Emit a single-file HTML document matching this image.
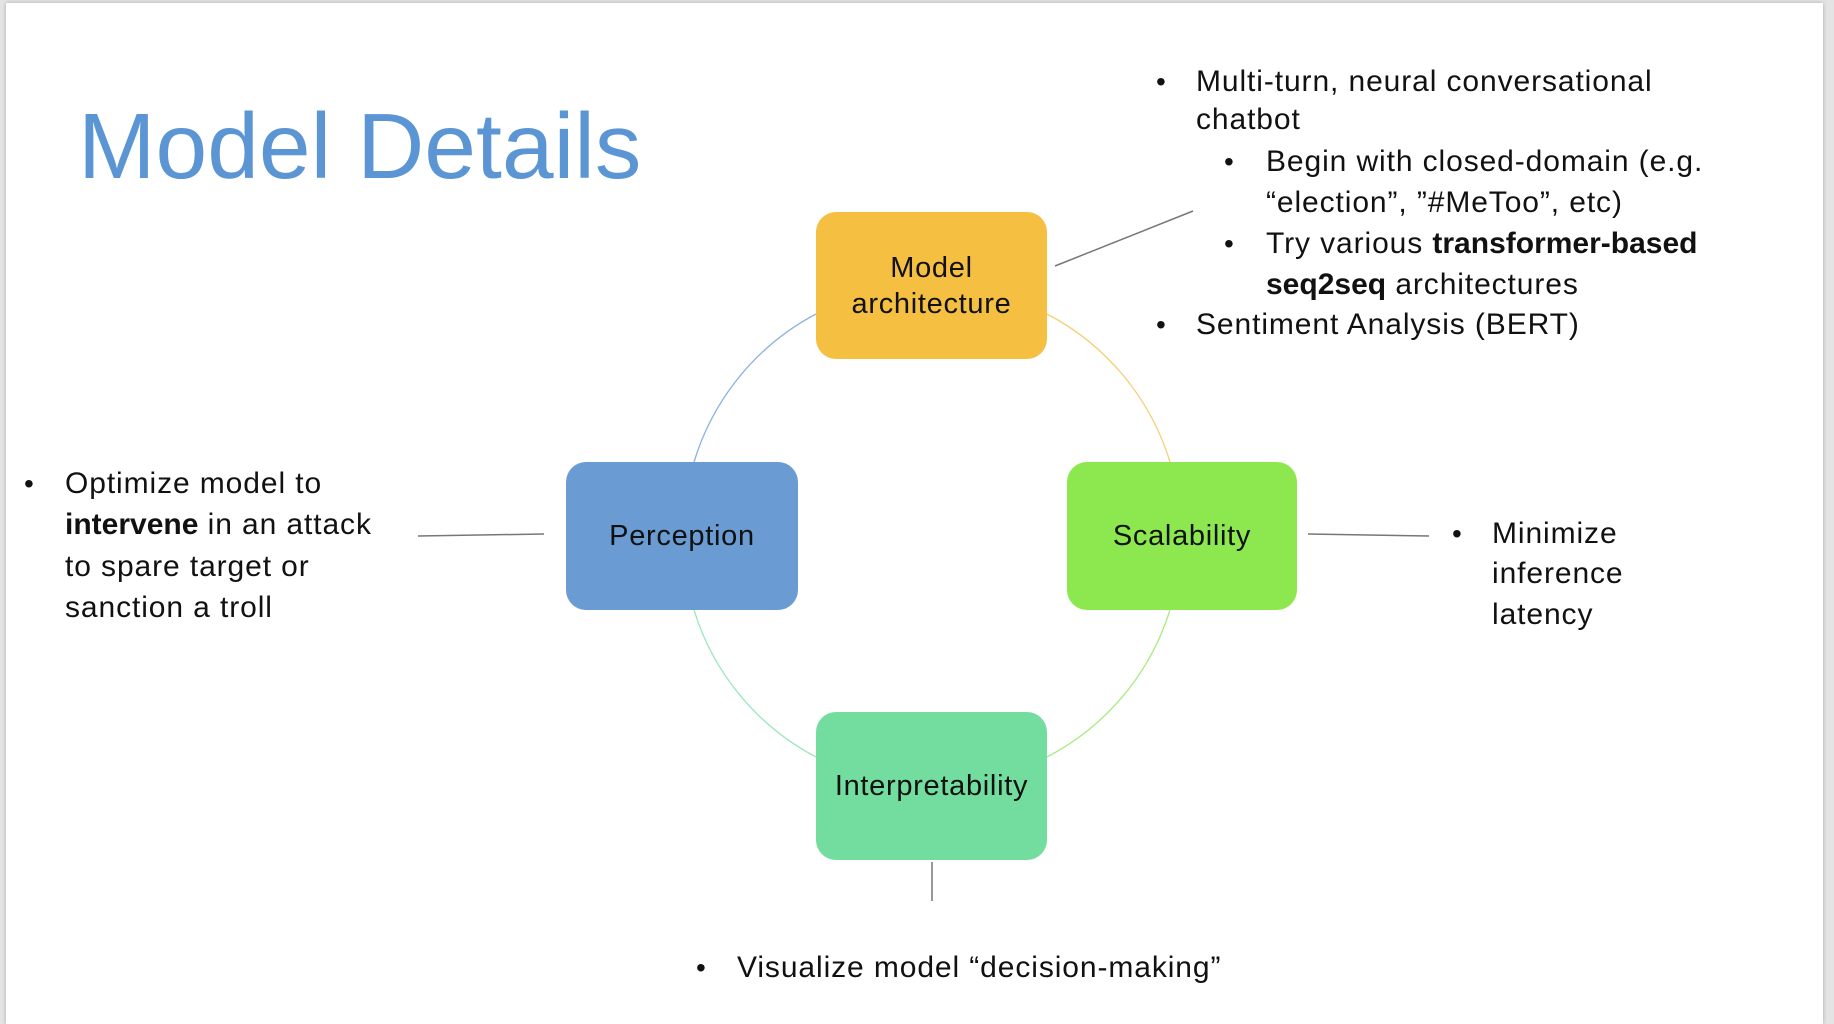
<!DOCTYPE html>
<html><head><meta charset="utf-8"><style>
html,body{margin:0;padding:0}
body{width:1834px;height:1024px;background:#e4e4e4;position:relative;overflow:hidden;font-family:"Liberation Sans",sans-serif;color:#111}
#slide{position:absolute;left:6px;top:3px;width:1817px;height:1021px;background:#fff;box-shadow:0 0 4px rgba(0,0,0,.25)}
.t{position:absolute;font-size:30px;letter-spacing:0.9px;line-height:40px;white-space:nowrap}
.t b{letter-spacing:0px}
.b{position:absolute;font-size:28px;line-height:40px}
.box{position:absolute;border-radius:20px;display:flex;align-items:center;justify-content:center;text-align:center;font-size:29px;letter-spacing:0.7px;line-height:36px;color:#111}
</style></head><body>
<div id="slide"></div>
<div style="position:absolute;left:78px;top:89px;font-size:93px;line-height:115px;color:#5b95d3;white-space:nowrap">Model Details</div>
<svg width="1834" height="1024" style="position:absolute;left:0;top:0">
<g fill="none" stroke-width="1.3">
<path d="M 694 462 A 249 249 0 0 1 816 314" stroke="#8ab3e0"/>
<path d="M 1047 314 A 249 249 0 0 1 1170 462" stroke="#f5cf75"/>
<path d="M 1170 610 A 249 249 0 0 1 1047 757" stroke="#a8eb82"/>
<path d="M 816 757 A 249 249 0 0 1 694 610" stroke="#9de6bd"/>
</g>
<g stroke="#777" stroke-width="1.5">
<line x1="1055" y1="266" x2="1193" y2="211"/>
<line x1="418" y1="536" x2="544" y2="534"/>
<line x1="1308" y1="534" x2="1429" y2="536"/>
<line x1="932" y1="862" x2="932" y2="901"/>
</g>
</svg>
<div class="box" style="left:816px;top:212px;width:231px;height:147px;background:#f5bf42">Model<br>architecture</div>
<div class="box" style="left:566px;top:462px;width:232px;height:148px;background:#6a9bd2">Perception</div>
<div class="box" style="left:1067px;top:462px;width:230px;height:148px;background:#8de84f">Scalability</div>
<div class="box" style="left:816px;top:712px;width:231px;height:148px;background:#72dd9e">Interpretability</div>

<div class="b" style="left:1156px;top:62px">•</div>
<div class="t" style="left:1196px;top:62px">Multi-turn, neural conversational</div>
<div class="t" style="left:1196px;top:100px">chatbot</div>
<div class="b" style="left:1224px;top:142px">•</div>
<div class="t" style="left:1266px;top:142px">Begin with closed-domain (e.g.</div>
<div class="t" style="left:1266px;top:183px">“election”, ”#MeToo”, etc)</div>
<div class="b" style="left:1224px;top:224px">•</div>
<div class="t" style="left:1266px;top:224px">Try various <b>transformer-based</b></div>
<div class="t" style="left:1266px;top:265px"><b>seq2seq</b> architectures</div>
<div class="b" style="left:1156px;top:305px">•</div>
<div class="t" style="left:1196px;top:305px">Sentiment Analysis (BERT)</div>

<div class="b" style="left:24px;top:464px">•</div>
<div class="t" style="left:65px;top:464px">Optimize model to</div>
<div class="t" style="left:65px;top:505px"><b>intervene</b> in an attack</div>
<div class="t" style="left:65px;top:547px">to spare target or</div>
<div class="t" style="left:65px;top:588px">sanction a troll</div>

<div class="b" style="left:1452px;top:514px">•</div>
<div class="t" style="left:1492px;top:514px">Minimize</div>
<div class="t" style="left:1492px;top:554px">inference</div>
<div class="t" style="left:1492px;top:595px">latency</div>

<div class="b" style="left:696px;top:948px">•</div>
<div class="t" style="left:737px;top:948px">Visualize model “decision-making”</div>
</body></html>
